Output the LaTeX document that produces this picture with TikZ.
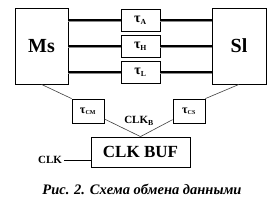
\documentclass[tikz,border=0pt]{standalone}
\usepackage{fontspec}
\setmainfont{Liberation Serif}
\newcommand{\tauL}[2]{{\fontsize{#1}{#1}\selectfont τ}\textsubscript{#2}}
\begin{document}
\begin{tikzpicture}[x=1pt,y=-1pt,
  box/.style={draw,line width=0.8pt,inner sep=0pt,font=\bfseries},
  big/.style={box,minimum width=53pt,minimum height=76pt,font=\fontsize{20}{20}\bfseries\selectfont},
  tau/.style={box,minimum width=39pt,minimum height=22pt,font=\fontsize{11}{11}\bfseries\selectfont},
  tsm/.style={box,minimum width=32pt,minimum height=24pt,font=\fontsize{9}{9}\bfseries\selectfont},
  bufbox/.style={box,minimum width=99pt,minimum height=30pt,font=\fontsize{17}{17}\bfseries\selectfont},
  lbl/.style={inner sep=0pt,font=\fontsize{11}{11}\bfseries\selectfont},
  thin/.style={draw=black!75,line width=0.6pt},
  busb/.style={draw=black,line width=2.2pt},
  busg/.style={draw=black!45,line width=1.2pt}]
\useasboundingbox (0,0) rectangle (274,206);
\fill[white] (0,0) rectangle (274,206);
\node[big] (ms) at (41.5,46) {Ms};
\node[big,minimum width=54pt] (sl) at (239,46) {Sl};
\node[tau] (ta) at (140.5,20) {\tauL{14}{A}};
\node[tau] (th) at (140.5,46) {\tauL{14}{H}};
\node[tau] (tl) at (140.5,72) {\tauL{14}{L}};
\node[tsm] (cm) at (88,111) {\tauL{12}{CM}};
\node[tsm] (cs) at (189,111) {\tauL{12}{CS}};
\node[bufbox] (buf) at (140.5,152) {CLK BUF};
\node[lbl] (clk) at (50,160) {CLK};
\node[lbl] (clkb) at (139,121) {CLK\textsubscript{B}};
\coordinate (j) at (buf.north);
\foreach \t in {ta,th,tl}{
  \draw[busg] ([yshift=-1.5pt]ms.east |- \t) -- ([yshift=-1.5pt]\t.west);
  \draw[busb] (ms.east |- \t) -- (\t.west);
  \draw[busg] ([yshift=-1.5pt]\t.east) -- ([yshift=-1.5pt]sl.west |- \t);
  \draw[busb] (\t.east) -- (sl.west |- \t);
}
\draw[thin] (ms.south) -- (cm.north west);
\draw[thin] (sl.south) -- (cs.north east);
\draw[thin] (cm) -- (j);
\draw[thin] (cs) -- (j);
\draw[line width=0.7pt] (clk.east) ++(2,0) coordinate (c1) -- (c1 -| buf.west);
\node[inner sep=0pt,font=\fontsize{14.5}{14.5}\bfseries\itshape\selectfont] (cap) at (142,189) {Рис. 2. Схема обмена данными};
\end{tikzpicture}
\end{document}
